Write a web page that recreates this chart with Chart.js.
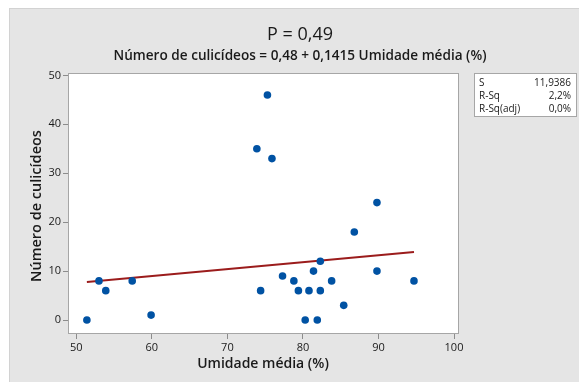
<!DOCTYPE html>
<html>
<head>
<meta charset="utf-8">
<script src="https://cdn.jsdelivr.net/npm/chart.js@4/dist/chart.umd.min.js"></script>
<style>
  html, body { margin: 0; padding: 0; background: #fff; }
  #wrap { width: 579px; height: 382px; }
</style>
</head>
<body>
<div id="wrap"><canvas id="chart"></canvas></div>
<script>
// values
const umidade = [51.4, 53.0, 53.9, 57.4, 59.9, 73.9, 74.4, 75.3, 75.9, 77.3, 78.8, 79.4,
  80.3, 80.8, 81.4, 81.9, 82.3, 82.3, 83.8, 85.4, 86.8, 89.8, 89.8, 94.7];
const culicideos = [0, 8, 6, 8, 1, 35, 6, 46, 33, 9, 8, 6,
  0, 6, 10, 0, 12, 6, 8, 3, 18, 24, 10, 8];

// fitted line ends
const fitX = [51.4, 94.7];
const fitY = [7.75, 13.88];

const xTicks = [50, 60, 70, 80, 90, 100];
const yTicks = [0, 10, 20, 30, 40, 50];

const statLabels = ["S", "R-Sq", "R-Sq(adj)"];
const statValues = ["11,9386", "2,2%", "0,0%"];

const titleText = "P = 0,49";
const subtitleText = "Número de culicídeos = 0,48 + 0,1415 Umidade média (%)";
const xTitle = "Umidade média (%)";
const yTitle = "Número de culicídeos";

const FONT = "'Open Sans', 'Noto Sans', sans-serif";

const decor = {
  id: "decor",
  beforeDraw(chart) {
    const { ctx, chartArea: a } = chart;
    ctx.save();
    ctx.fillStyle = "#ffffff";
    ctx.fillRect(0, 0, chart.width, chart.height);
    ctx.fillStyle = "#e5e5e5";
    ctx.fillRect(9, 8, chart.width - 9, chart.height - 8);
    ctx.fillStyle = "#d2d2d2";
    ctx.fillRect(9, 8, chart.width - 9, 1);
    ctx.fillRect(9, 8, 1, chart.height - 8);
    ctx.fillStyle = "#ffffff";
    ctx.fillRect(a.left, a.top, a.right - a.left, a.bottom - a.top);
    ctx.restore();
  },
  afterDraw(chart) {
    const { ctx, chartArea: a } = chart;
    ctx.save();
    ctx.strokeStyle = "#a6a6a6";
    ctx.lineWidth = 1;
    ctx.strokeRect(a.left + 0.5, a.top + 0.5, a.right - a.left - 1, a.bottom - a.top - 1);

    ctx.fillStyle = "#1a1a1a";
    ctx.textAlign = "center";
    ctx.textBaseline = "alphabetic";
    ctx.font = "500 18px " + FONT;
    ctx.fillText(titleText, 300, 40);
    ctx.font = "600 13.6px " + FONT;
    ctx.fillText(subtitleText, 300, 60);

    ctx.textBaseline = "middle";
    ctx.font = "600 14px " + FONT;
    ctx.fillText(xTitle, 263, 364);
    ctx.save();
    ctx.translate(37, 206);
    ctx.rotate(-Math.PI / 2);
    ctx.font = "600 14.5px " + FONT;
    ctx.fillText(yTitle, 0, 0);
    ctx.restore();

    // stats box
    ctx.fillStyle = "#ffffff";
    ctx.fillRect(474, 73, 103, 44);
    ctx.strokeStyle = "#a6a6a6";
    ctx.strokeRect(474.5, 73.5, 102, 43);
    ctx.fillStyle = "#1a1a1a";
    ctx.font = "10px " + FONT;
    statLabels.forEach((l, i) => {
      const y = 83 + i * 13;
      ctx.textAlign = "left";
      ctx.fillText(l, 479, y);
      ctx.textAlign = "right";
      ctx.fillText(statValues[i], 571, y);
    });
    ctx.restore();
  }
};

const tickOpts = { color: "#1a1a1a", font: { family: FONT, size: 11 }, padding: 2 };
const gridOpts = { drawOnChartArea: false, drawTicks: true, tickLength: 5, color: "#8c8c8c" };

new Chart(document.getElementById("chart"), {
  type: "scatter",
  data: {
    datasets: [
      {
        label: "fit",
        type: "line",
        data: fitX.map((x, i) => ({ x, y: fitY[i] })),
        borderColor: "#9b1c1c",
        borderWidth: 2,
        pointRadius: 0,
        fill: false,
        order: 2
      },
      {
        label: "dados",
        data: umidade.map((x, i) => ({ x, y: culicideos[i] })),
        backgroundColor: "#0052a3",
        borderColor: "#0052a3",
        pointRadius: 3.8,
        pointBorderWidth: 0,
        order: 1
      }
    ]
  },
  options: {
    responsive: true,
    maintainAspectRatio: false,
    animation: false,
    layout: { padding: { left: 0, top: 73, right: 120, bottom: 0 } },
    plugins: {
      legend: { display: false },
      tooltip: { enabled: false },
      title: { display: false }
    },
    scales: {
      x: {
        type: "linear",
        min: 48.9,
        max: 100.66,
        afterBuildTicks: (s) => { s.ticks = xTicks.map((v) => ({ value: v })); },
        afterFit: (s) => { s.height = 48; },
        ticks: { ...tickOpts, maxRotation: 0, autoSkip: false },
        grid: gridOpts,
        border: { display: false }
      },
      y: {
        type: "linear",
        min: -2.86,
        max: 50.5,
        afterBuildTicks: (s) => { s.ticks = yTicks.map((v) => ({ value: v })); },
        afterFit: (s) => { s.width = 68; },
        ticks: { ...tickOpts, autoSkip: false },
        grid: gridOpts,
        border: { display: false }
      }
    }
  },
  plugins: [decor]
});
</script>
</body>
</html>
